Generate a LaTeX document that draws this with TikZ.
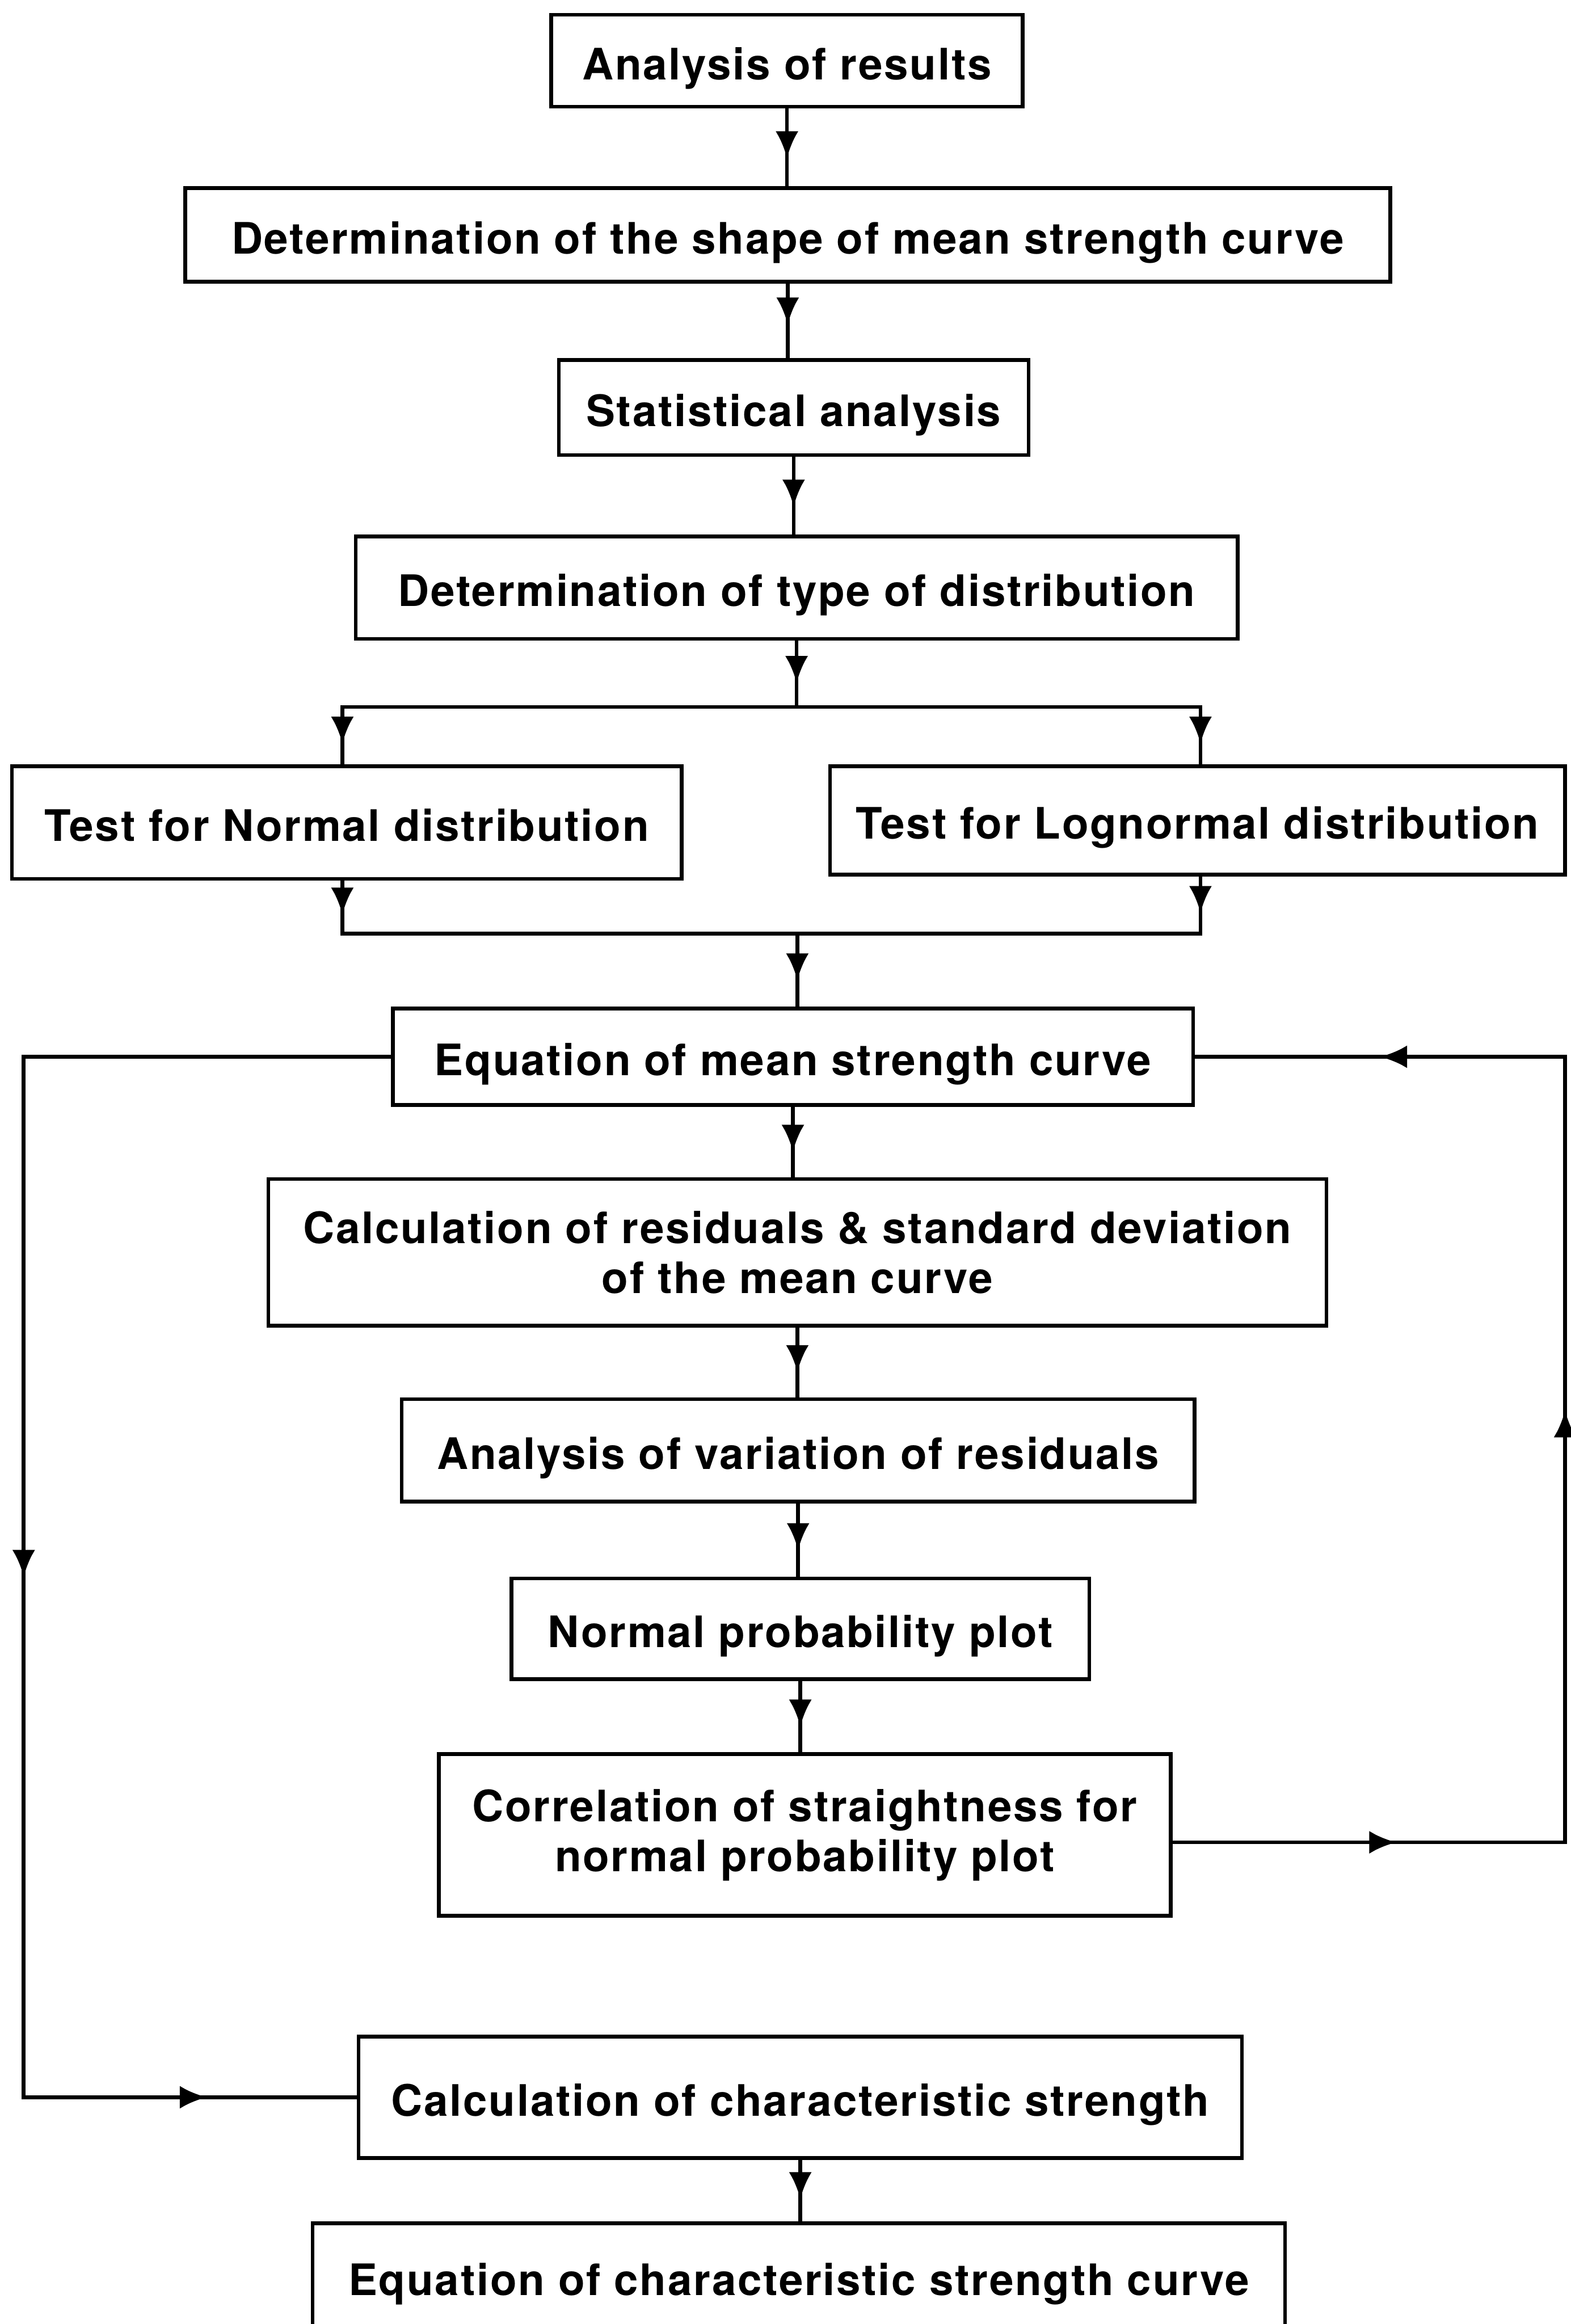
\documentclass[tikz,border=0pt]{standalone}
\usepackage{fontspec}
\setmainfont{TeX Gyre Heros}[LetterSpace=3.5]
\usetikzlibrary{arrows.meta,decorations.markings}

\begin{document}
\begin{tikzpicture}[%
        x=0.025cm, y=-0.025cm, % 1 Einheit = 1 Bildpunkt
        font=\fontsize{20.8}{24}\selectfont\bfseries,
        line width=1.8pt, line cap=rect,
        kasten/.style 2 args={draw, align=center, inner sep=0pt,
            minimum width=#1*0.025cm, minimum height=#2*0.025cm},
        zeile/.style={text height=19pt, text depth=1pt},
        pfeil/.style={postaction={decorate}, decoration={markings,
            mark=at position #1 with {\arrow{Latex[length=13pt,width=11pt]}}}},
        pfeil/.default=0.64
        ]
    \useasboundingbox (0,0) rectangle (1060,1568);

    % Kaesten
    \node[kasten={318}{62}, zeile] (res) at (531,41) {Analysis of results};
    \node[kasten={813}{63}, zeile] (shape) at (531.5,158.5)
        {Determination of the shape of mean strength curve};
    \node[kasten={317}{64}, zeile] (stat) at (535.5,275) {Statistical analysis};
    \node[kasten={595}{69}, zeile] (dist) at (537.5,396.5)
        {Determination of type of distribution};
    \node[kasten={452}{76}, zeile] (norm) at (234,555) {Test for Normal distribution};
    \node[kasten={496}{73}, zeile] (lognorm) at (808,553.5)
        {Test for Lognormal distribution};
    \node[kasten={540}{65}, zeile] (mean) at (535,713) {Equation of mean strength curve};
    \node[kasten={714}{99}] (resid) at (538,845)
        {Calculation of residuals \& standard deviation\\of the mean curve};
    \node[kasten={535}{69}, zeile] (var) at (538.5,978.5)
        {Analysis of variation of residuals};
    \node[kasten={390}{68}, zeile] (npp) at (540,1099) {Normal probability plot};
    \node[kasten={494}{109}] (corr) at (543,1238)
        {Correlation of straightness for\\normal probability plot};
    \node[kasten={596}{82}, zeile] (char) at (540,1415)
        {Calculation of characteristic strength};
    \node[kasten={656}{72}, zeile] (charcurve) at (539,1536)
        {Equation of characteristic strength curve};

    % Knickpunkte
    \coordinate (v1)  at (537.5,477);
    \coordinate (v1l) at (231,477);
    \coordinate (v1r) at (810,477);
    \coordinate (v2)  at (538,630);
    \coordinate (v2l) at (231,630);
    \coordinate (v2r) at (810,630);
    \coordinate (lt)  at (16,713);
    \coordinate (lb)  at (16,1415);
    \coordinate (rt)  at (1056,713);
    \coordinate (rb)  at (1056,1243);

    % Hauptstrang
    \draw[pfeil] (res.south) -- (res.south |- shape.north);
    \draw[pfeil=0.55] (shape.south) -- (shape.south |- stat.north);
    \draw[pfeil] (stat.south) -- (stat.south |- dist.north);
    \draw[pfeil] (dist.south) -- (v1);
    \draw        (v1l) -- (v1r);
    \draw[pfeil] (v1l) -- (v1l |- norm.north);
    \draw[pfeil] (v1r) -- (v1r |- lognorm.north);
    \draw[pfeil] (v2l |- norm.south) -- (v2l);
    \draw[pfeil] (v2r |- lognorm.south) -- (v2r);
    \draw        (v2l) -- (v2r);
    \draw[pfeil] (v2) -- (v2 |- mean.north);
    \draw[pfeil] (mean.south) -- (mean.south |- resid.north);
    \draw[pfeil] (resid.south) -- (resid.south |- var.north);
    \draw[pfeil] (var.south) -- (var.south |- npp.north);
    \draw[pfeil] (npp.south) -- (npp.south |- corr.north);
    \draw[pfeil] (char.south) -- (char.south |- charcurve.north);

    % Rueckfuehrungen
    \draw        (mean.west) -- (lt);
    \draw[pfeil=0.5] (lt) -- (lb);
    \draw[pfeil=0.55] (lb) -- (char.west);
    \draw[pfeil=0.57] (corr.east |- rb) -- (rb);
    \draw[pfeil=0.55] (rb) -- (rt);
    \draw[pfeil=0.5] (rt) -- (mean.east);

\end{tikzpicture}
\end{document}
